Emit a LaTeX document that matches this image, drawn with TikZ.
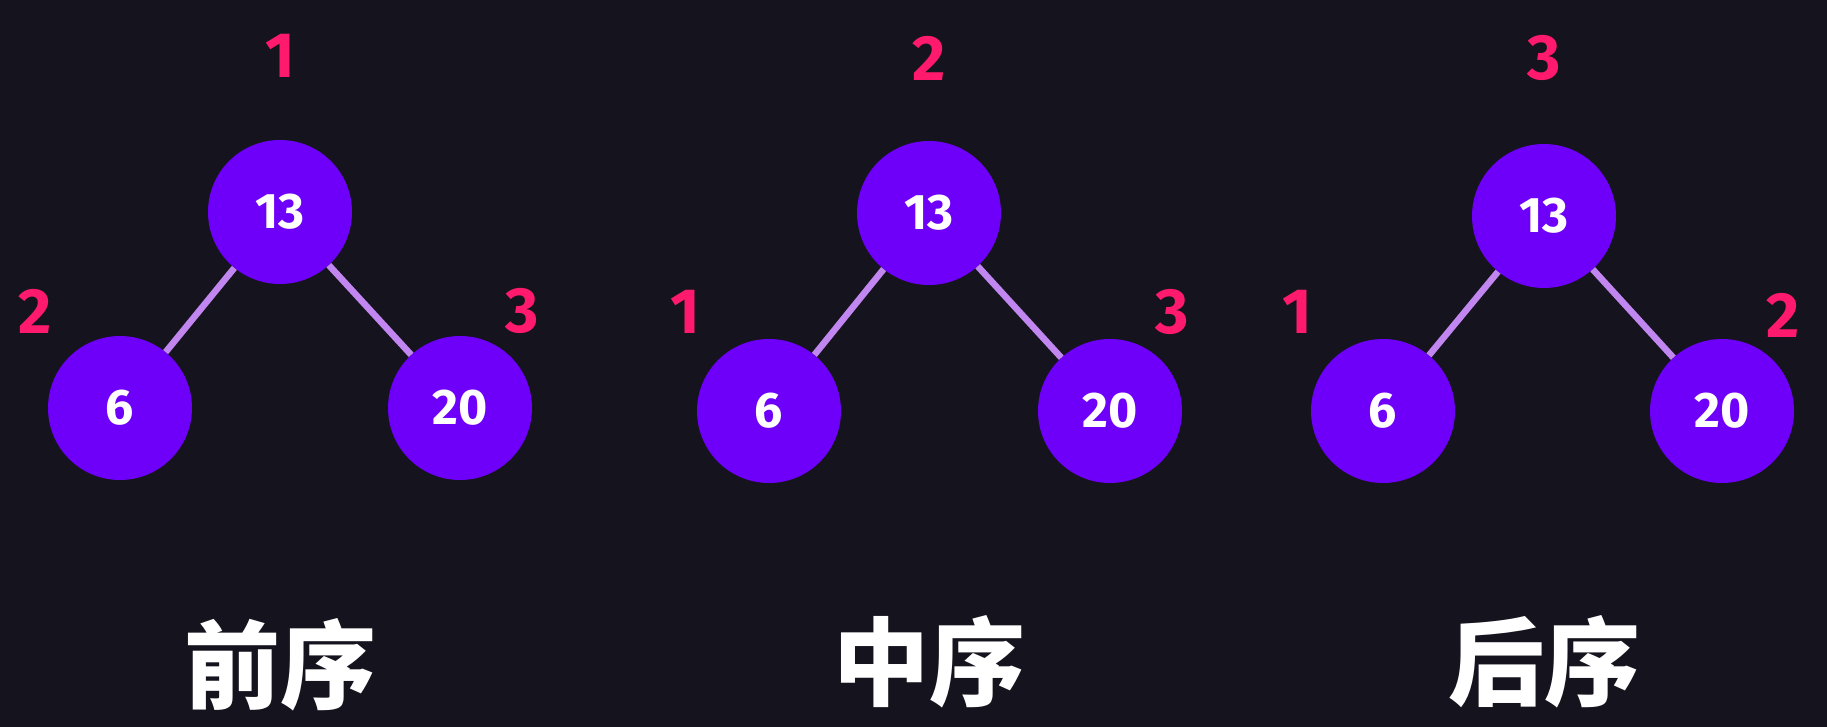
\documentclass[tikz,border=0pt]{standalone}
\usepackage{fontspec}
\setmainfont{Fira Sans}
\newfontfamily\cjk{Noto Sans CJK SC}
\definecolor{bg}{HTML}{15141E}
\definecolor{nodefill}{HTML}{6E00FA}
\definecolor{edgecol}{HTML}{C286F0}
\definecolor{ordcol}{HTML}{FF1A6E}
\begin{document}
\begin{tikzpicture}[x=1pt,y=-1pt,
  treenode/.style={circle,fill=nodefill,minimum size=144pt,inner sep=0pt,text=white,font=\fontsize{50}{54}\selectfont\bfseries},
  edge/.style={draw=edgecol,line width=6.5pt},
  ordlabel/.style={text=ordcol,font=\fontsize{64}{68}\selectfont\bfseries},
  title/.style={text=white,font=\cjk\fontsize{96}{100}\selectfont\bfseries}]
\fill[bg] (0,0) rectangle (1827,727);
\useasboundingbox (0,0) rectangle (1827,727);
% tree 1
\node[treenode] (a1) at (280,212) {13};
\node[treenode] (b1) at (120,408) {6};
\node[treenode] (c1) at (460,408) {20};
\draw[edge] (a1) -- (b1);
\draw[edge] (a1) -- (c1);
\node[ordlabel] (la1) at (280,56) {1};
\node[ordlabel] (lb1) at (35,311) {2};
\node[ordlabel] (lc1) at (522,311) {3};
\node[title] (t1) at (280,665) {前序};
% tree 2
\node[treenode] (a2) at (929,213) {13};
\node[treenode] (b2) at (769,411) {6};
\node[treenode] (c2) at (1110,411) {20};
\draw[edge] (a2) -- (b2);
\draw[edge] (a2) -- (c2);
\node[ordlabel] (la2) at (929,58) {2};
\node[ordlabel] (lb2) at (685,312) {1};
\node[ordlabel] (lc2) at (1172,312) {3};
\node[title] (t2) at (929,662) {中序};
% tree 3
\node[treenode] (a3) at (1544,216) {13};
\node[treenode] (b3) at (1383,411) {6};
\node[treenode] (c3) at (1722,411) {20};
\draw[edge] (a3) -- (b3);
\draw[edge] (a3) -- (c3);
\node[ordlabel] (la3) at (1544,58) {3};
\node[ordlabel] (lb3) at (1297,312) {1};
\node[ordlabel] (lc3) at (1783,315) {2};
\node[title] (t3) at (1544,662) {后序};
\end{tikzpicture}
\end{document}
